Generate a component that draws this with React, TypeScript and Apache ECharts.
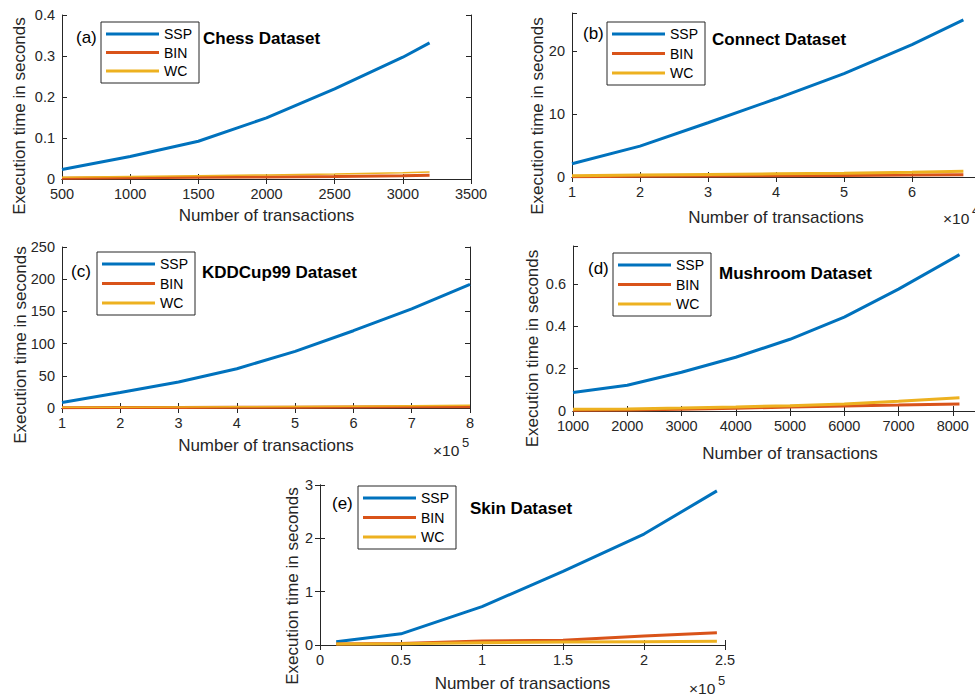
import React, { useEffect, useRef } from 'react';
import * as echarts from 'echarts';

const FONT = '"Liberation Sans", Arial, Helvetica, sans-serif';
const AX = '#262626';
const COLORS = ['#0072BD', '#D95319', '#EDB120'];
const seriesNames = ['SSP', 'BIN', 'WC'];

// (a) Chess
const chessX = [500, 1000, 1500, 2000, 2500, 3000, 3196];
const chessSSP = [0.023, 0.055, 0.092, 0.149, 0.22, 0.297, 0.332];
const chessBIN = [0.002, 0.003, 0.004, 0.005, 0.006, 0.008, 0.009];
const chessWC = [0.004, 0.006, 0.008, 0.01, 0.012, 0.015, 0.017];
// (b) Connect (x 10^4)
const connectX = [1, 2, 3, 4, 5, 6, 6.7557];
const connectSSP = [2.1, 4.9, 8.6, 12.4, 16.4, 21.0, 24.9];
const connectBIN = [0.05, 0.1, 0.15, 0.2, 0.25, 0.3, 0.35];
const connectWC = [0.2, 0.3, 0.4, 0.5, 0.6, 0.75, 0.9];
// (c) KDDCup99 (x 10^5)
const kddX = [1, 2, 3, 4, 5, 6, 7, 8];
const kddSSP = [8.5, 24, 40.5, 61, 88, 120, 154, 192];
const kddBIN = [0.5, 0.7, 0.9, 1.0, 1.2, 1.5, 1.8, 2.0];
const kddWC = [1.0, 1.3, 1.6, 2.0, 2.4, 2.8, 3.5, 4.2];
// (d) Mushroom
const mushX = [1000, 2000, 3000, 4000, 5000, 6000, 7000, 8124];
const mushSSP = [0.087, 0.122, 0.183, 0.254, 0.339, 0.444, 0.576, 0.739];
const mushBIN = [0.003, 0.005, 0.008, 0.013, 0.019, 0.024, 0.028, 0.033];
const mushWC = [0.008, 0.01, 0.014, 0.019, 0.025, 0.033, 0.046, 0.063];
// (e) Skin (x 10^5)
const skinX = [0.1, 0.5, 1.0, 1.5, 2.0, 2.45];
const skinSSP = [0.063, 0.21, 0.72, 1.38, 2.08, 2.89];
const skinBIN = [0.02, 0.03, 0.075, 0.088, 0.17, 0.23];
const skinWC = [0.02, 0.025, 0.044, 0.057, 0.063, 0.07];

const panels = [
  {
    label: '(a)', title: 'Chess Dataset', x: chessX, ys: [chessSSP, chessBIN, chessWC],
    xMin: 500, xMax: 3500, xInt: 500, xVisMax: 3500, yMax: 0.4, yInt: 0.1,
    grid: { left: 62, top: 15, width: 409, height: 164 }, widths: [3, 3, 1.5],
    legend: { left: 101, top: 22, gap: 4.5 }, labelPos: [76, 37.5], titlePos: [203, 38],
    yNamePos: [19, 116], xNameGap: 27.5, exp: null as null | { t: string; x: number; y: number },
  },
  {
    label: '(b)', title: 'Connect Dataset', x: connectX, ys: [connectSSP, connectBIN, connectWC],
    xMin: 1, xMax: 7, xInt: 1, xVisMax: 6, yMax: 26, yInt: 10,
    grid: { left: 572, top: 13, width: 408, height: 164 }, widths: [3, 3, 3],
    legend: { left: 607, top: 22, gap: 5.5 }, labelPos: [583, 33.5], titlePos: [712, 39.5],
    yNamePos: [537, 116], xNameGap: 31.5, exp: { t: '4', x: 943, y: 218 },
  },
  {
    label: '(c)', title: 'KDDCup99 Dataset', x: kddX, ys: [kddSSP, kddBIN, kddWC],
    xMin: 1, xMax: 8, xInt: 1, xVisMax: 8, yMax: 250, yInt: 50,
    grid: { left: 62, top: 247, width: 408, height: 161 }, widths: [3, 3, 1.5],
    legend: { left: 97, top: 252, gap: 5.5 }, labelPos: [71, 271], titlePos: [202, 272.5],
    yNamePos: [20, 345], xNameGap: 28.5, exp: { t: '5', x: 433, y: 450 },
  },
  {
    label: '(d)', title: 'Mushroom Dataset', x: mushX, ys: [mushSSP, mushBIN, mushWC],
    xMin: 1000, xMax: 9000, xInt: 1000, xVisMax: 8000, yMax: 0.78, yInt: 0.2,
    grid: { left: 573, top: 246, width: 434, height: 165 }, widths: [3, 3, 3],
    legend: { left: 613, top: 253, gap: 5.5 }, labelPos: [588, 268.5], titlePos: [719, 273.5],
    yNamePos: [532.5, 348.5], xNameGap: 34, exp: null,
  },
  {
    label: '(e)', title: 'Skin Dataset', x: skinX, ys: [skinSSP, skinBIN, skinWC],
    xMin: 0, xMax: 2.5, xInt: 0.5, xVisMax: 2.5, yMax: 3, yInt: 1,
    grid: { left: 320, top: 485, width: 405, height: 160 }, widths: [3, 3, 3],
    legend: { left: 358, top: 486, gap: 5.5 }, labelPos: [332, 503.5], titlePos: [470, 508.5],
    yNamePos: [292.5, 586], xNameGap: 30, exp: { t: '5', x: 689, y: 688 },
  },
];

const fmt = (int: number, visMax = Infinity) => (v: number) => {
  const r = v / int;
  if (Math.abs(r - Math.round(r)) > 1e-6) return '';
  if (v > visMax + 1e-9) return '';
  return String(+v.toFixed(6));
};

function buildOption() {
  const grid: any[] = [];
  const xAxis: any[] = [];
  const yAxis: any[] = [];
  const series: any[] = [];
  const legend: any[] = [];
  const graphic: any[] = [];
  const lineCommon = { show: true, lineStyle: { color: AX, width: 1 } };
  const tickCommon = { show: true, inside: true, length: 5, lineStyle: { color: AX, width: 1 } };
  const labelCommon = { color: AX, fontSize: 14.5, fontFamily: FONT, margin: 7 };

  panels.forEach((p, i) => {
    grid.push({ ...p.grid, containLabel: false });
    const xBase = { type: 'value', gridIndex: i, min: p.xMin, max: p.xMax, interval: p.xInt, splitLine: { show: false } };
    const yBase = { type: 'value', gridIndex: i, min: 0, max: p.yMax, interval: p.yInt, splitLine: { show: false } };
    xAxis.push({
      ...xBase, position: 'bottom', axisLine: lineCommon, axisTick: tickCommon,
      axisLabel: { ...labelCommon, formatter: fmt(p.xInt, p.xVisMax), showMaxLabel: true, showMinLabel: true },
      name: 'Number of transactions', nameLocation: 'middle', nameGap: p.xNameGap,
      nameTextStyle: { color: AX, fontSize: 17, fontFamily: FONT },
    });
    xAxis.push({ ...xBase, position: 'top', axisLine: lineCommon, axisTick: tickCommon, axisLabel: { show: false } });
    yAxis.push({
      ...yBase, position: 'left', axisLine: lineCommon, axisTick: tickCommon,
      axisLabel: { ...labelCommon, formatter: fmt(p.yInt) },
    });
    yAxis.push({ ...yBase, position: 'right', axisLine: lineCommon, axisTick: tickCommon, axisLabel: { show: false } });

    p.ys.forEach((ys, k) => {
      series.push({
        type: 'line', name: seriesNames[k], xAxisIndex: 2 * i, yAxisIndex: 2 * i,
        data: p.x.map((xv, j) => [xv, ys[j]]), symbol: 'none', silent: true,
        lineStyle: { color: COLORS[k], width: p.widths[k] }, itemStyle: { color: COLORS[k] }, z: 2 + k,
      });
    });

    legend.push({
      orient: 'vertical', left: p.legend.left, top: p.legend.top, padding: [5, 7, 5, 5],
      itemGap: p.legend.gap, itemWidth: 53, itemHeight: 3, icon: 'rect', data: seriesNames,
      borderColor: AX, borderWidth: 1, backgroundColor: '#fff', selectedMode: false,
      itemStyle: { borderWidth: 0 },
      textStyle: { fontSize: 14, fontFamily: FONT, color: '#000', lineHeight: 14 }, z: 10,
    });

    graphic.push({
      type: 'text', x: p.labelPos[0], y: p.labelPos[1], z: 20,
      style: { text: p.label, font: `17px ${FONT}`, fill: '#000', align: 'left', verticalAlign: 'middle' },
    });
    graphic.push({
      type: 'text', x: p.titlePos[0], y: p.titlePos[1], z: 20,
      style: { text: p.title, font: `bold 17px ${FONT}`, fill: '#000', align: 'left', verticalAlign: 'middle' },
    });
    graphic.push({
      type: 'text', x: p.yNamePos[0], y: p.yNamePos[1], rotation: Math.PI / 2, z: 20,
      style: { text: 'Execution time in seconds', font: `17px ${FONT}`, fill: AX, align: 'center', verticalAlign: 'middle' },
    });
    if (p.exp) {
      graphic.push({
        type: 'text', x: p.exp.x, y: p.exp.y, z: 20,
        style: { text: '\u00d710', font: `15.5px ${FONT}`, fill: AX, align: 'left', verticalAlign: 'middle' },
      });
      graphic.push({
        type: 'text', x: p.exp.x + 29, y: p.exp.y - 8, z: 20,
        style: { text: p.exp.t, font: `13px ${FONT}`, fill: AX, align: 'left', verticalAlign: 'middle' },
      });
    }
  });

  return {
    animation: false,
    backgroundColor: '#fff',
    textStyle: { fontFamily: FONT },
    grid, xAxis, yAxis, series, legend, graphic,
  };
}

export default function App() {
  const ref = useRef<HTMLDivElement>(null);
  useEffect(() => {
    if (!ref.current) return;
    const chart = echarts.init(ref.current, undefined, { renderer: 'svg' });
    chart.setOption(buildOption() as any);
    return () => chart.dispose();
  }, []);
  return (
    <div style={{ position: 'absolute', left: 0, top: 0, width: 975, height: 695, overflow: 'hidden', background: '#fff' }}>
      <div ref={ref} style={{ width: 1030, height: 695 }} />
    </div>
  );
}
